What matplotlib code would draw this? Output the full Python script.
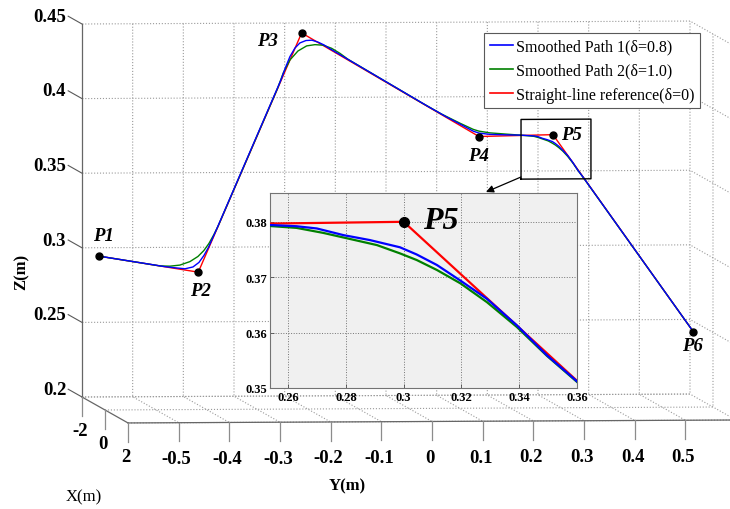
import numpy as np
import matplotlib
matplotlib.use('Agg')
import matplotlib.pyplot as plt
from matplotlib.lines import Line2D

# ---------------- data ----------------
point_names = ['P1', 'P2', 'P3', 'P4', 'P5', 'P6']
point_y = [-0.595, -0.400, -0.196, 0.154, 0.300, 0.577]
point_z = [0.300, 0.289, 0.449, 0.3790, 0.380, 0.2475]
plane_x = -0.7          # all way-points lie in this X plane

# straight-line reference (delta = 0)
ref_y = point_y
ref_z = point_z

# smoothed path 1 (delta = 0.8)
path1_y = [-0.595, -0.4658, -0.4461, -0.4263, -0.4105, -0.3987, -0.3888, -0.3800, -0.3711, -0.3632,
           -0.2369, -0.2290, -0.2191, -0.2092, -0.1994, -0.1875, -0.1757, -0.1638, -0.1520, -0.1402,
           0.050, 0.090, 0.116, 0.1427, 0.154, 0.1756, 0.2086, 0.235,
           0.2548, 0.2629, 0.2699, 0.2791, 0.2883, 0.2987, 0.3045, 0.3115, 0.3196, 0.3288, 0.3392,
           0.3496, 0.360, 0.577]
path1_z = [0.300, 0.2928, 0.2920, 0.2913, 0.2925, 0.2955, 0.3002, 0.3055, 0.3122, 0.3182,
           0.4175, 0.4249, 0.4332, 0.4389, 0.4423, 0.4439, 0.4441, 0.4428, 0.4409, 0.4383,
           0.4000, 0.3922, 0.3875, 0.3826, 0.3813, 0.3804, 0.3800, 0.3798,
           0.3794, 0.3792, 0.3788, 0.3776, 0.3767, 0.3754, 0.3741, 0.3722, 0.3694, 0.3661, 0.3613,
           0.3559, 0.3512, 0.2475]

# smoothed path 2 (delta = 1.0)
path2_y = [-0.595, -0.4757, -0.4559, -0.4362, -0.4165, -0.4007, -0.3889, -0.3790, -0.3691, -0.3612,
           -0.2432, -0.2323, -0.2191, -0.2033, -0.1861, -0.1697, -0.1534, -0.1368, -0.1204, -0.1046,
           0.040, 0.080, 0.1164, 0.1427, 0.154, 0.1756, 0.2086, 0.235,
           0.2548, 0.2629, 0.2721, 0.2814, 0.2907, 0.2987, 0.3045, 0.3115, 0.3196, 0.3288, 0.3392,
           0.3496, 0.360, 0.577]
path2_z = [0.300, 0.2933, 0.2931, 0.2938, 0.2961, 0.2995, 0.3035, 0.3082, 0.3142, 0.3196,
           0.4122, 0.4222, 0.4309, 0.4369, 0.4403, 0.4411, 0.4407, 0.4386, 0.4352, 0.4312,
           0.4020, 0.3942, 0.3880, 0.3838, 0.3826, 0.3814, 0.3805, 0.3798,
           0.3792, 0.3789, 0.3780, 0.3769, 0.3758, 0.3743, 0.3731, 0.3713, 0.3689, 0.3655, 0.3610,
           0.3558, 0.3511, 0.2475]

series_labels = ['Smoothed Path 1(\u03b4=0.8)', 'Smoothed Path 2(\u03b4=1.0)',
                 'Straight-line reference(\u03b4=0)']

x_lim = (-2, 2)
y_lim = (-0.6, 0.6)
z_lim = (0.2, 0.45)
x_ticks = [-2, 0, 2]
x_ticklabels = ['-2', '0', '2']
y_ticks = [-0.5, -0.4, -0.3, -0.2, -0.1, 0.0, 0.1, 0.2, 0.3, 0.4, 0.5]
y_ticklabels = ['-0.5', '-0.4', '-0.3', '-0.2', '-0.1', '0', '0.1', '0.2', '0.3', '0.4', '0.5']
z_ticks = [0.2, 0.25, 0.3, 0.35, 0.4, 0.45]
z_ticklabels = ['0.2', '0.25', '0.3', '0.35', '0.4', '0.45']

inset_xticks = [0.26, 0.28, 0.30, 0.32, 0.34, 0.36]
inset_xticklabels = ['0.26', '0.28', '0.3', '0.32', '0.34', '0.36']
inset_yticks = [0.35, 0.36, 0.37, 0.38]
inset_yticklabels = ['0.35', '0.36', '0.37', '0.38']

zoom_box_y = [0.237, 0.375]
zoom_box_z = [0.3503, 0.3903]

# ---------------- style ----------------
plt.rcParams['font.family'] = ['Liberation Serif', 'DejaVu Serif']
plt.rcParams['grid.color'] = '#9a9a9a'
plt.rcParams['grid.linestyle'] = ':'
plt.rcParams['grid.linewidth'] = 0.8

W, H = 730, 510
fig = plt.figure(figsize=(W / 100, H / 100), dpi=100)
ax = fig.add_axes([0, 0, 1, 1], projection='3d', proj_type='ortho', computed_zorder=False)

c_blue, c_green, c_red = '#0000ff', '#008000', '#ff0000'
ax.plot(ref_y, ref_z, zs=plane_x, zdir='x', color=c_red, lw=1.0, zorder=2)
ax.plot(path2_y, path2_z, zs=plane_x, zdir='x', color=c_green, lw=1.0, zorder=3)
ax.plot(path1_y, path1_z, zs=plane_x, zdir='x', color=c_blue, lw=1.0, zorder=4)
ax.plot(point_y, point_z, zs=plane_x, zdir='x', ls='none', marker='o', ms=5,
        color='k', zorder=5)
# zoom box
ax.plot([zoom_box_y[0], zoom_box_y[1], zoom_box_y[1], zoom_box_y[0], zoom_box_y[0]],
        [zoom_box_z[0], zoom_box_z[0], zoom_box_z[1], zoom_box_z[1], zoom_box_z[0]],
        zs=plane_x, zdir='x', color='k', lw=1.0, zorder=6)

ax.set_xlim(*x_lim)
ax.set_ylim(*y_lim)
ax.set_zlim(*z_lim)
ax.set_xticks(x_ticks)
ax.set_yticks(y_ticks)
ax.set_zticks(z_ticks)
ax.set_xticklabels([])
ax.set_yticklabels([])
ax.set_zticklabels([])
ax.zaxis.set_ticks_position('lower')   # z axis on the back-left edge

for axis in (ax.xaxis, ax.yaxis, ax.zaxis):
    axis.set_pane_color((1, 1, 1, 0))
    axis.pane.set_edgecolor((1, 1, 1, 0))
    axis.line.set_color('0.4')
    axis.line.set_linewidth(0.9)
    axis.set_tick_params(color=(1, 1, 1, 0))

ax.view_init(elev=3, azim=-5.3)
aspect = [0.61, 1.0, 0.61]
ax.set_box_aspect(aspect)


def proj2d(x, y, z):
    M = ax.get_proj()
    v = M @ np.array([x, y, z, 1.0])
    return v[0] / v[3], v[1] / v[3]


def frac(x, y, z):
    return ax.transLimits.transform(proj2d(x, y, z))


# fit the projected box to the reference layout (pixels, origin bottom-left)
tA = (82, H - 398)   # back-left-bottom corner
tB_dx = 608          # width of back wall
t_vert = 373         # height of back wall
t_depth = 46         # horizontal extent of the X axis
for _ in range(6):
    fig.canvas.draw()
    A = frac(x_lim[0], y_lim[0], z_lim[0])
    B = frac(x_lim[0], y_lim[1], z_lim[0])
    C = frac(x_lim[0], y_lim[0], z_lim[1])
    D = frac(x_lim[1], y_lim[0], z_lim[0])
    S = tB_dx / (B[0] - A[0])
    aspect[2] *= t_vert / (S * (C[1] - A[1]))
    aspect[0] *= t_depth / (S * (D[0] - A[0]))
    ax.set_box_aspect(aspect)
fig.canvas.draw()
A = frac(x_lim[0], y_lim[0], z_lim[0])
B = frac(x_lim[0], y_lim[1], z_lim[0])
S = tB_dx / (B[0] - A[0])
left = tA[0] - S * A[0]
bottom = tA[1] - S * A[1]
ax.set_position([left / W, bottom / H, S / W, S / H])


def label3d(x, y, z, s, dx, dy, **kw):
    """Text anchored at a projected 3D point, shifted by (dx, dy) pixels."""
    ax.annotate(s, xy=proj2d(x, y, z), xycoords='data', xytext=(dx, dy),
                textcoords='offset pixels', annotation_clip=False, **kw)


# ---- MATLAB-like ticks and tick labels ----
tick_font = dict(fontsize=13.5, fontweight='bold')
tick_col = '0.55'

z_tick_len = 1.2      # leaders point backwards along X
for zt, lab in zip(z_ticks, z_ticklabels):
    ax.plot([x_lim[0], x_lim[0] - z_tick_len], [y_lim[0], y_lim[0]], [zt, zt],
            color='0.35', lw=0.8, zorder=1)
    label3d(x_lim[0] - z_tick_len, y_lim[0], zt, lab, -2, 0,
            ha='right', va='center', **tick_font)

down_len = 0.0125     # vertical tick marks below the floor
for xt, lab in zip(x_ticks, x_ticklabels):
    ax.plot([xt, xt], [y_lim[0], y_lim[0]], [z_lim[0], z_lim[0] - down_len],
            color=tick_col, lw=0.9, zorder=1)
    label3d(xt, y_lim[0], z_lim[0], lab, -2, -34, ha='center', va='center', **tick_font)
for yt, lab in zip(y_ticks, y_ticklabels):
    ax.plot([x_lim[1], x_lim[1]], [yt, yt], [z_lim[0], z_lim[0] - down_len],
            color=tick_col, lw=0.9, zorder=1)
    label3d(x_lim[1], yt, z_lim[0], lab, -2, -36, ha='center', va='center', **tick_font)

# point labels
label_off = {'P1': (4, 21), 'P2': (2, -18), 'P3': (-34, -8),
             'P4': (-1, -19), 'P5': (19, 0), 'P6': (-1, -14)}
for name, yy, zz in zip(point_names, point_y, point_z):
    dx, dy = label_off[name]
    label3d(plane_x, yy, zz, name, dx, dy, ha='center', va='center',
            fontsize=13.5, fontweight='bold', fontstyle='italic', zorder=7)

# axis labels
fig.text(22 / W, 1 - 272 / H, 'Z(m)', rotation=90, ha='center', va='center',
         fontsize=12, fontweight='bold')
fig.text(347 / W, 1 - 486 / H, 'Y(m)', ha='center', va='center',
         fontsize=12, fontweight='bold')
fig.text(84 / W, 1 - 497 / H, 'X(m)', ha='center', va='center', fontsize=12)

# legend
handles = [Line2D([], [], color=c_blue, lw=1.2), Line2D([], [], color=c_green, lw=1.2),
           Line2D([], [], color=c_red, lw=1.2)]
leg = fig.legend(handles, series_labels, loc='upper right',
                 bbox_to_anchor=(700 / W, 1 - 34 / H), frameon=True, fancybox=False,
                 edgecolor='0.35', framealpha=1, fontsize=11.5, handlelength=1.4,
                 handletextpad=0.2, borderpad=0.36, labelspacing=0.5, borderaxespad=0)
leg.get_frame().set_linewidth(0.8)

# inset
axin = fig.add_axes([270 / W, 1 - 389 / H, 307 / W, 195 / H])
axin.set_facecolor('#f0f0f0')
axin.plot(ref_y, ref_z, color=c_red, lw=1.6, zorder=3)
axin.plot(path2_y, path2_z, color=c_green, lw=1.6, zorder=3)
axin.plot(path1_y, path1_z, color=c_blue, lw=1.6, zorder=4)
axin.plot([point_y[4]], [point_z[4]], ls='none', marker='o', ms=7, color='k', zorder=5)
axin.annotate(point_names[4], xy=(point_y[4], point_z[4]), xytext=(19, 1),
              textcoords='offset pixels', ha='left', va='center',
              fontsize=23, fontweight='bold', fontstyle='italic')
axin.set_xlim(0.2537, 0.36)
axin.set_ylim(0.35, 0.3852)
axin.set_xticks(inset_xticks)
axin.set_xticklabels(inset_xticklabels, fontsize=9, fontweight='bold')
axin.set_yticks(inset_yticks)
axin.set_yticklabels(inset_yticklabels, fontsize=9, fontweight='bold')
axin.tick_params(direction='in', length=3, width=0.6, pad=2, color='0.3')
axin.grid(True, ls=':', color='0.45', lw=0.7)
for sp in axin.spines.values():
    sp.set_color('0.45')
    sp.set_linewidth(0.8)

axin.annotate('', xy=(486, H - 193), xycoords='figure pixels',
              xytext=(521, H - 178), textcoords='figure pixels',
              arrowprops=dict(arrowstyle='-|>', color='k', lw=0.9, mutation_scale=11,
                              shrinkA=0, shrinkB=0),
              annotation_clip=False)

fig.savefig('out.png', dpi=100)
